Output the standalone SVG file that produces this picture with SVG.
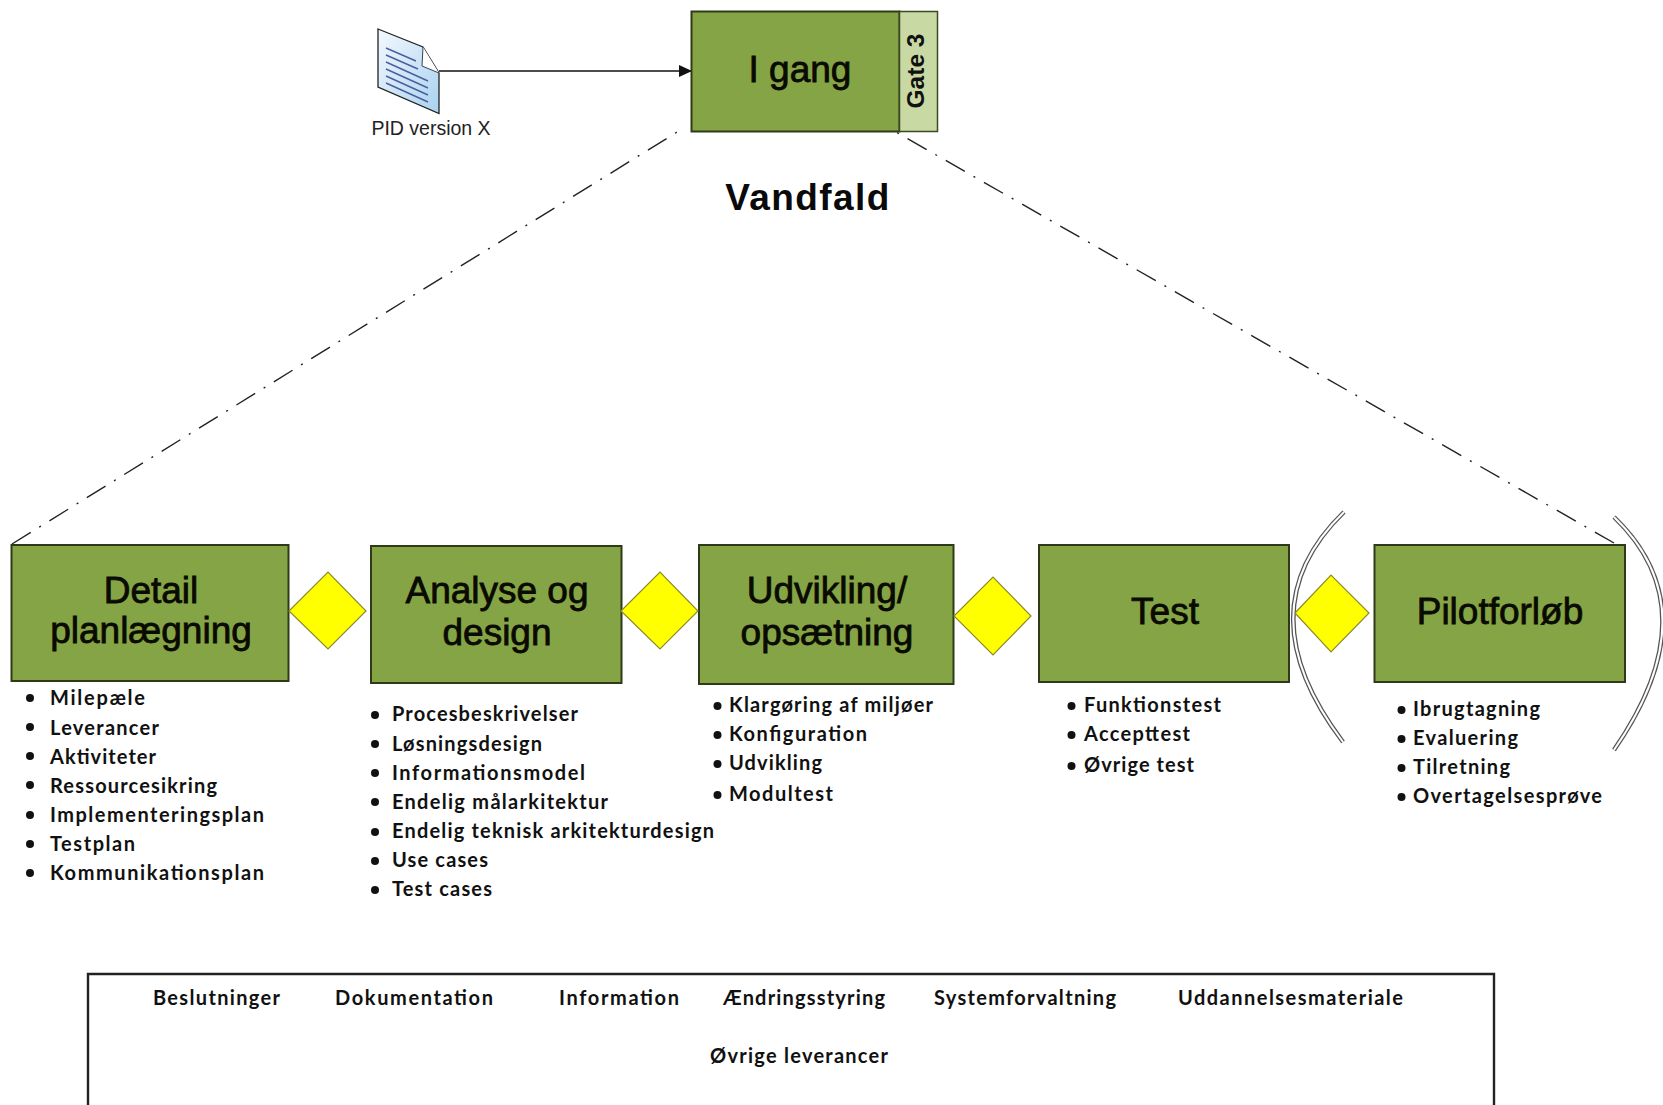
<svg xmlns="http://www.w3.org/2000/svg" width="1663" height="1105" viewBox="0 0 1663 1105">
<style>
.box{fill:#84a446;stroke:#2e3a18;stroke-width:2}
.dia{fill:#ffff00;stroke:#8a8a30;stroke-width:1.2}
.t{font-family:"Liberation Sans",Arial,sans-serif;fill:#0a0a00;stroke:#0a0a00;stroke-width:.8px;text-anchor:middle;font-size:37px}
.l{font-family:Lato,"Liberation Sans",sans-serif;font-weight:700;font-size:20px;fill:#111}
.b{fill:#111}
.dash{fill:none;stroke:#222;stroke-width:1.4;stroke-dasharray:22 10 2 10}
.arc{fill:none;stroke:#555;stroke-width:4.5}
.arci{fill:none;stroke:#fff;stroke-width:2}
.dl{stroke:#4a5f9c;stroke-width:1.4}
</style>
<defs><marker id="ah" markerWidth="13" markerHeight="12" refX="12" refY="6" orient="auto" markerUnits="userSpaceOnUse"><path d="M0 0L13 6L0 12Z" fill="#111"/></marker>
<linearGradient id="dg" x1="0" y1="0" x2="1" y2="1"><stop offset="0" stop-color="#f4f9fe"/><stop offset="1" stop-color="#a9d2f0"/></linearGradient></defs>
<g id="connectors">
<path d="M439 71H691" fill="none" stroke="#111" stroke-width="1.5" marker-end="url(#ah)"/>
<path class="dash" d="M12 544L682 129"/>
<path class="dash" d="M1614 543L896 132"/>
</g>
<g id="pid"><path d="M378 29L423 47L439 73V113.500L378 87Z" fill="url(#dg)" stroke="#222" stroke-width="1.3"/><path d="M423 47L422 66L439 73" fill="#fff" stroke="#345" stroke-width="1"/>
<path class="dl" d="M386 48L416 61M386 55L418 69M386 62L428 81M386 69L428 88M386 76L428 95M386 83L428 102"/>
<text x="431" y="135" text-anchor="middle" font-family="'Liberation Sans',sans-serif" font-size="19.500" fill="#222">PID version X</text></g>
<g id="igang"><rect class="box" x="691.500" y="11.500" width="208" height="120"/><rect x="899.500" y="11.500" width="38" height="120" fill="#c9d9a3" stroke="#3c4a24" stroke-width="1.500"/>
<text class="t" x="800" y="82">I gang</text>
<text transform="translate(924 71) rotate(-90)" text-anchor="middle" font-family="'Liberation Sans',sans-serif" font-weight="700" font-size="24.500" fill="#111">Gate 3</text></g>
<text x="808" y="210" text-anchor="middle" font-family="'Liberation Sans',sans-serif" font-weight="700" font-size="37" letter-spacing="1.400" fill="#0a0a0a">Vandfald</text>
<g id="detail"><rect class="box" x="11.500" y="545" width="277" height="136"/><text class="t" x="151" y="603">Detail</text><text class="t" x="151" y="643">planlægning</text></g>
<g id="analyse"><rect class="box" x="371" y="546" width="250.500" height="137"/><text class="t" x="497" y="603">Analyse og</text><text class="t" x="497" y="645">design</text></g>
<g id="udvikling"><rect class="box" x="699" y="545" width="254.500" height="139"/><text class="t" x="827" y="603">Udvikling/</text><text class="t" x="827" y="645">opsætning</text></g>
<g id="test"><rect class="box" x="1039" y="545" width="250" height="137"/><text class="t" x="1165" y="624">Test</text></g>
<g id="pilot"><rect class="box" x="1374.500" y="545" width="250.500" height="137"/><text class="t" x="1500" y="624">Pilotforløb</text></g>
<g id="gate1"><path class="dia" d="M289 611L328 572L366 611L328 649Z"/></g>
<g id="gate2"><path class="dia" d="M621 611L660 572L698 611L660 649Z"/></g>
<g id="gate3"><path class="dia" d="M954 616L993 577L1031 616L993 655Z"/></g>
<g id="brackets"><path class="arc" d="M1344 512Q1243 610 1343 742"/><path class="arci" d="M1344 512Q1243 610 1343 742"/><path class="arc" d="M1614 517Q1711 610 1614 750"/><path class="arci" d="M1614 517Q1711 610 1614 750"/></g>
<g id="gate4"><path class="dia" d="M1295 613L1331 575L1369 613L1331 652Z"/></g>
<g id="list1"><g class="b"><circle cx="30" cy="698" r="4"/><circle cx="30" cy="727" r="4"/><circle cx="30" cy="756" r="4"/><circle cx="30" cy="785" r="4"/><circle cx="30" cy="815" r="4"/><circle cx="30" cy="844" r="4"/><circle cx="30" cy="873" r="4"/></g>
<text class="l" x="50" y="705" textLength="95">Milepæle</text><text class="l" x="50" y="735" textLength="109">Leverancer</text><text class="l" x="50" y="764" textLength="106">Aktiviteter</text><text class="l" x="50" y="793" textLength="167">Ressourcesikring</text><text class="l" x="50" y="822" textLength="214">Implementeringsplan</text><text class="l" x="50" y="851" textLength="85">Testplan</text><text class="l" x="50" y="880" textLength="214">Kommunikationsplan</text></g>
<g id="list2"><g class="b"><circle cx="375" cy="715" r="4"/><circle cx="375" cy="744" r="4"/><circle cx="375" cy="773" r="4"/><circle cx="375" cy="802" r="4"/><circle cx="375" cy="832" r="4"/><circle cx="375" cy="861" r="4"/><circle cx="375" cy="890" r="4"/></g>
<text class="l" x="392" y="721" textLength="186">Procesbeskrivelser</text><text class="l" x="392" y="751" textLength="150">Løsningsdesign</text><text class="l" x="392" y="780" textLength="193">Informationsmodel</text><text class="l" x="392" y="809" textLength="216">Endelig målarkitektur</text><text class="l" x="392" y="838" textLength="322">Endelig teknisk arkitekturdesign</text><text class="l" x="392" y="867" textLength="96">Use cases</text><text class="l" x="392" y="896" textLength="100">Test cases</text></g>
<g id="list3"><g class="b"><circle cx="717.500" cy="706" r="4"/><circle cx="717.500" cy="735" r="4"/><circle cx="717.500" cy="764" r="4"/><circle cx="717.500" cy="795" r="4"/></g>
<text class="l" x="729" y="712" textLength="204">Klargøring af miljøer</text><text class="l" x="729" y="741" textLength="138">Konfiguration</text><text class="l" x="729" y="770" textLength="93">Udvikling</text><text class="l" x="729" y="801" textLength="104">Modultest</text></g>
<g id="list4"><g class="b"><circle cx="1071.500" cy="706" r="4"/><circle cx="1071.500" cy="735" r="4"/><circle cx="1071.500" cy="766" r="4"/></g>
<text class="l" x="1084" y="712" textLength="137">Funktionstest</text><text class="l" x="1084" y="741" textLength="106">Accepttest</text><text class="l" x="1084" y="772" textLength="110">Øvrige test</text></g>
<g id="list5"><g class="b"><circle cx="1401.500" cy="710" r="4"/><circle cx="1401.500" cy="739" r="4"/><circle cx="1401.500" cy="768" r="4"/><circle cx="1401.500" cy="797" r="4"/></g>
<text class="l" x="1413" y="716" textLength="127">Ibrugtagning</text><text class="l" x="1413" y="745" textLength="105">Evaluering</text><text class="l" x="1413" y="774" textLength="97">Tilretning</text><text class="l" x="1413" y="803" textLength="189">Overtagelsesprøve</text></g>
<g id="leverancer"><path d="M88 1105V974H1494V1105" fill="#fff" stroke="#222" stroke-width="2.400"/>
<text class="l" x="153" y="1005" textLength="127">Beslutninger</text><text class="l" x="335" y="1005" textLength="158">Dokumentation</text><text class="l" x="559" y="1005" textLength="120">Information</text><text class="l" x="723" y="1005" textLength="162">Ændringsstyring</text><text class="l" x="934" y="1005" textLength="182">Systemforvaltning</text><text class="l" x="1178" y="1005" textLength="225">Uddannelsesmateriale</text><text class="l" x="710" y="1063" textLength="178">Øvrige leverancer</text></g>
</svg>
